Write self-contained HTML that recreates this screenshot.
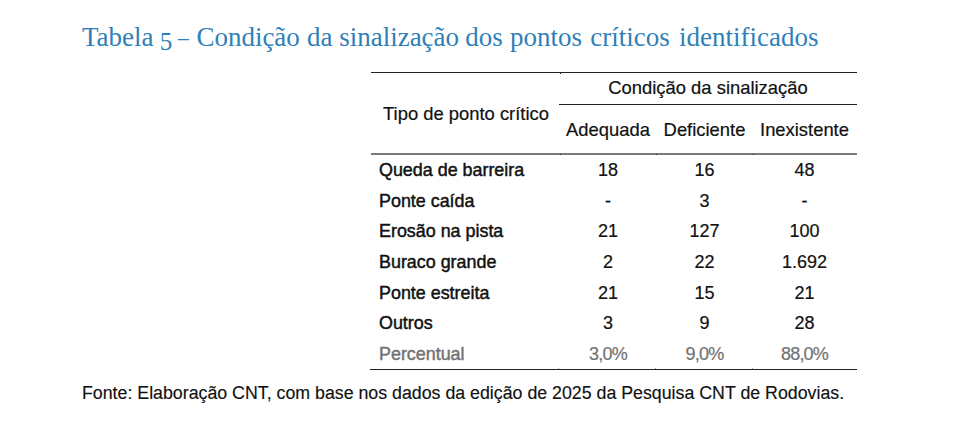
<!DOCTYPE html>
<html lang="pt-BR">
<head>
<meta charset="utf-8">
<title>Tabela 5 – Condição da sinalização dos pontos críticos identificados</title>
<style>
  html, body { margin: 0; padding: 0; background: #fff; }
  body { width: 965px; height: 440px; position: relative; overflow: hidden;
         font-family: "Liberation Sans", Arial, sans-serif; color: #111; }
  h1.title { position: absolute; left: 82px; top: 22px; margin: 0;
    font-family: "Liberation Serif", "Times New Roman", serif; font-weight: normal;
    font-size: 27px; line-height: 30px; color: #2f80b8; white-space: nowrap; }
  .rule { position: absolute; height: 1px; background: #222; }
  .tick { position: absolute; width: 1px; height: 1px; background: #222; }
  .t { position: absolute; white-space: nowrap; font-size: 17.9px; line-height: 20px; height: 20px; -webkit-text-stroke: 0.2px currentColor; }
  .m { -webkit-text-stroke: 0.45px currentColor; }
  .c { text-align: center; }
  .h { font-size: 18.4px; }
  .n { font-size: 18px; }
  .gray { color: #727272; }
  .n.gray { letter-spacing: -0.8px; }
  .src { position: absolute; left: 82px; top: 383px; white-space: nowrap; font-size: 17.77px; line-height: 20px; color: #111; -webkit-text-stroke: 0.15px currentColor; }
</style>
</head>
<body>
  <h1 class="title">Tabela <span style="position:relative; left:-0.5px; top:3.5px; font-size:0.93em;">5</span> <span style="position:relative; display:inline-block; left:-2px; top:0px; transform:scaleX(0.8); transform-origin:0 0;">–</span> <span style="position:relative; left:-3.5px; top:0px;">Condição</span> <span style="position:relative; left:-3px; top:0px;">da</span> <span style="position:relative; left:-3.2px; top:0px;">sinalização</span> <span style="position:relative; left:-3.9px; top:0px;">dos</span> <span style="position:relative; left:-3.3px; top:0px;">pontos</span> <span style="position:relative; left:-1.8px; top:0px;">críticos</span> <span style="position:relative; left:0.7px; top:0px;">identificados</span></h1>

  <div class="rule" style="left:371px; top:72px; width:486px;"></div>
  <div class="rule" style="left:559px; top:104px; width:298px;"></div>
  <div class="rule" style="left:371px; top:153px; width:486px; height:2px; background:#7a7a7a;"></div>
  <div class="rule" style="left:370px; top:369px; width:487px;"></div>
  <div class="tick" style="left:560px; top:73px;"></div>
  <div class="tick" style="left:560px; top:154px;"></div>
  <div class="tick" style="left:656px; top:154px;"></div>
  <div class="tick" style="left:753px; top:154px;"></div>
  <div class="tick" style="left:558px; top:368px; background:#aaa;"></div>
  <div class="tick" style="left:655px; top:368px; background:#999;"></div>
  <div class="tick" style="left:752px; top:368px; background:#aaa;"></div>

  <div class="t h c" style="left:560px; width:296px; top:78px;">Condição da sinalização</div>
  <div class="t h c" style="left:372px; width:188px; top:104px;">Tipo de ponto crítico</div>
  <div class="t h c" style="left:560px; width:96px; top:120px;">Adequada</div>
  <div class="t h c" style="left:656px; width:97px; top:120px;">Deficiente</div>
  <div class="t h c" style="left:753px; width:103px; top:120px;">Inexistente</div>

  <div class="row">
    <div class="t m" style="left:379px; top:160px;">Queda de barreira</div>
    <div class="t n c" style="left:560px; width:96px; top:160px;">18</div>
    <div class="t n c" style="left:656px; width:97px; top:160px;">16</div>
    <div class="t n c" style="left:753px; width:103px; top:160px;">48</div>
  </div>
  <div class="row">
    <div class="t m" style="left:379px; top:190.6px;">Ponte caída</div>
    <div class="t n c" style="left:560px; width:96px; top:190.6px;">-</div>
    <div class="t n c" style="left:656px; width:97px; top:190.6px;">3</div>
    <div class="t n c" style="left:753px; width:103px; top:190.6px;">-</div>
  </div>
  <div class="row">
    <div class="t m" style="left:379px; top:221px;">Erosão na pista</div>
    <div class="t n c" style="left:560px; width:96px; top:221px;">21</div>
    <div class="t n c" style="left:656px; width:97px; top:221px;">127</div>
    <div class="t n c" style="left:753px; width:103px; top:221px;">100</div>
  </div>
  <div class="row">
    <div class="t m" style="left:379px; top:252px;">Buraco grande</div>
    <div class="t n c" style="left:560px; width:96px; top:252px;">2</div>
    <div class="t n c" style="left:656px; width:97px; top:252px;">22</div>
    <div class="t n c" style="left:753px; width:103px; top:252px;">1.692</div>
  </div>
  <div class="row">
    <div class="t m" style="left:379px; top:283px;">Ponte estreita</div>
    <div class="t n c" style="left:560px; width:96px; top:283px;">21</div>
    <div class="t n c" style="left:656px; width:97px; top:283px;">15</div>
    <div class="t n c" style="left:753px; width:103px; top:283px;">21</div>
  </div>
  <div class="row">
    <div class="t m" style="left:379px; top:313px;">Outros</div>
    <div class="t n c" style="left:560px; width:96px; top:313px;">3</div>
    <div class="t n c" style="left:656px; width:97px; top:313px;">9</div>
    <div class="t n c" style="left:753px; width:103px; top:313px;">28</div>
  </div>
  <div class="row">
    <div class="t m gray" style="left:379px; top:344px;">Percentual</div>
    <div class="t n c gray" style="left:560px; width:96px; top:344px;">3,0%</div>
    <div class="t n c gray" style="left:656px; width:97px; top:344px;">9,0%</div>
    <div class="t n c gray" style="left:753px; width:103px; top:344px;">88,0%</div>
  </div>

  <div class="src">Fonte: Elaboração CNT, com base nos dados da edição de 2025 da Pesquisa CNT de Rodovias.</div>
</body>
</html>
